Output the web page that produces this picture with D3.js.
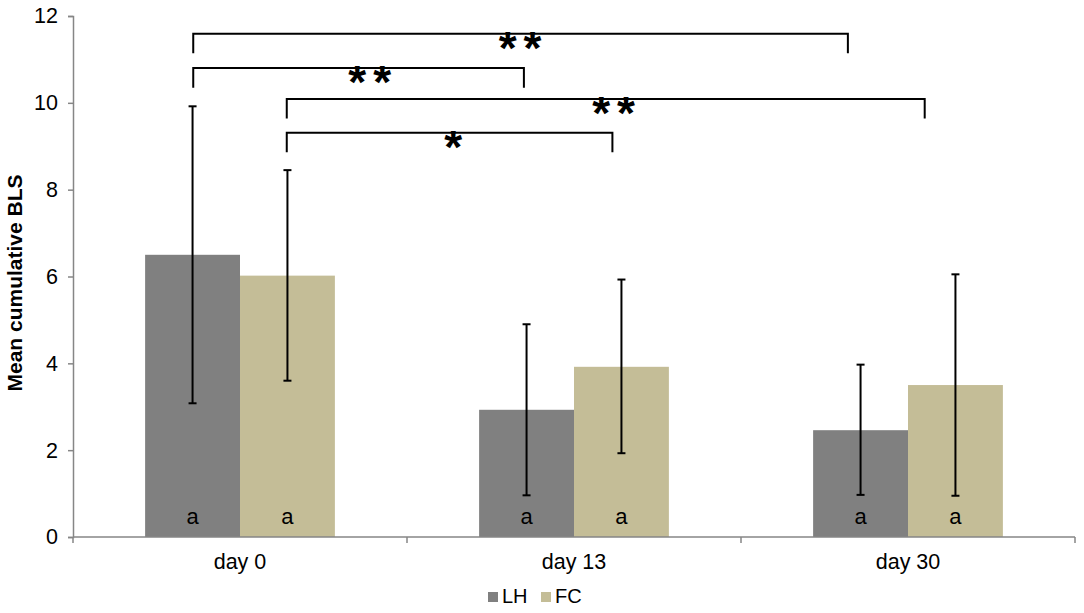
<!DOCTYPE html>
<html>
<head>
<meta charset="utf-8">
<script src="https://cdn.jsdelivr.net/npm/d3@7"></script>
<style>
  body { margin: 0; background: #fff; }
  svg { font-family: Arial, "Liberation Sans", sans-serif; }
</style>
</head>
<body>
<script>
// data
var days = ["day 0", "day 13", "day 30"];
var groups = ["LH", "FC"];
var colors = ["#808080", "#c4bd97"];
var meanLH = [6.5, 2.93, 2.46];
var meanFC = [6.02, 3.92, 3.5];
var upperLH = [9.92, 4.9, 3.97];
var lowerLH = [3.08, 0.96, 0.97];
var upperFC = [8.45, 5.93, 6.05];
var lowerFC = [3.6, 1.93, 0.95];
var letters = ["a", "a", "a"];
var yTicks = [0, 2, 4, 6, 8, 10, 12];

// significance brackets: x in category units (0..3), level in y units
var brackets = [
  { from: 0.36, to: 2.32, level: 11.59, stars: "**" },
  { from: 0.36, to: 1.35, level: 10.8, stars: "**" },
  { from: 0.64, to: 2.55, level: 10.09, stars: "**" },
  { from: 0.64, to: 1.615, level: 9.31, stars: "*" }
];
var starPos = [1.34, 0.89, 1.62, 1.14];

var svgWidth = 1084;
var svgHeight = 613;
var margin = { top: 16, right: 9, bottom: 76, left: 73 };
var chartWidth = svgWidth - margin.left - margin.right;
var chartHeight = svgHeight - margin.top - margin.bottom;

var svg = d3.select("body").append("svg")
  .attr("width", svgWidth)
  .attr("height", svgHeight);

var chartGroup = svg.append("g")
  .attr("transform", `translate(${margin.left}, ${margin.top})`);

var xBand = d3.scaleBand()
  .domain(days)
  .range([0, chartWidth])
  .paddingInner(0)
  .paddingOuter(0);

var xInner = d3.scaleBand()
  .domain(groups)
  .range([0, xBand.bandwidth()])
  .paddingOuter(0.76)
  .paddingInner(0);

var xCat = d3.scaleLinear().domain([0, days.length]).range([0, chartWidth]);

var yScale = d3.scaleLinear()
  .domain([0, 12])
  .range([chartHeight, 0]);

// rows for bars
var rows = [];
days.forEach(function(d, i) {
  rows.push({ day: d, g: "LH", v: meanLH[i], up: upperLH[i], lo: lowerLH[i], c: colors[0], l: letters[i] });
  rows.push({ day: d, g: "FC", v: meanFC[i], up: upperFC[i], lo: lowerFC[i], c: colors[1], l: letters[i] });
});

function cx(d) { return xBand(d.day) + xInner(d.g) + xInner.bandwidth() / 2; }

// bars
chartGroup.selectAll(".bar")
  .data(rows)
  .enter()
  .append("rect")
  .attr("class", "bar")
  .attr("x", d => xBand(d.day) + xInner(d.g))
  .attr("y", d => yScale(d.v))
  .attr("width", xInner.bandwidth())
  .attr("height", d => chartHeight - yScale(d.v))
  .attr("fill", d => d.c);

// y axis
var leftAxis = d3.axisLeft(yScale).tickValues(yTicks).tickSize(5).tickPadding(10);
var yg = chartGroup.append("g").call(leftAxis);
yg.select(".domain").attr("stroke", "#868686").attr("stroke-width", 1.5);
yg.selectAll(".tick line").attr("stroke", "#868686").attr("stroke-width", 1.5);
yg.selectAll(".tick text").attr("font-size", 21.5).attr("fill", "#000")
  .attr("font-family", "Arial, 'Liberation Sans', sans-serif");

// x axis with ticks between categories
var xg = chartGroup.append("g")
  .attr("transform", `translate(0, ${chartHeight})`);
xg.append("line")
  .attr("x1", 0).attr("x2", chartWidth)
  .attr("stroke", "#868686").attr("stroke-width", 1.5);
xg.selectAll(".xtick")
  .data(d3.range(days.length + 1))
  .enter()
  .append("line")
  .attr("x1", d => xCat(d)).attr("x2", d => xCat(d))
  .attr("y1", 0).attr("y2", 6)
  .attr("stroke", "#868686").attr("stroke-width", 1.5);
xg.selectAll(".xlabel")
  .data(days)
  .enter()
  .append("text")
  .attr("x", d => xBand(d) + xBand.bandwidth() / 2)
  .attr("y", 32)
  .attr("text-anchor", "middle")
  .attr("font-size", 21.5)
  .text(d => d);

// error bars
var err = chartGroup.append("g").attr("stroke", "#000").attr("stroke-width", 2);
err.selectAll(".ev")
  .data(rows).enter().append("line")
  .attr("x1", cx).attr("x2", cx)
  .attr("y1", d => yScale(d.up)).attr("y2", d => yScale(d.lo));
err.selectAll(".ecapU")
  .data(rows).enter().append("line")
  .attr("x1", d => cx(d) - 4).attr("x2", d => cx(d) + 4)
  .attr("y1", d => yScale(d.up)).attr("y2", d => yScale(d.up));
err.selectAll(".ecapL")
  .data(rows).enter().append("line")
  .attr("x1", d => cx(d) - 4).attr("x2", d => cx(d) + 4)
  .attr("y1", d => yScale(d.lo)).attr("y2", d => yScale(d.lo));

// letters in bars
chartGroup.selectAll(".letter")
  .data(rows).enter().append("text")
  .attr("x", cx)
  .attr("y", chartHeight - 13)
  .attr("text-anchor", "middle")
  .attr("font-size", 22)
  .attr("fill", "#000")
  .text(d => d.l);

// significance brackets
var legLen = 0.45;
chartGroup.selectAll(".bracket")
  .data(brackets).enter().append("path")
  .attr("fill", "none")
  .attr("stroke", "#000")
  .attr("stroke-width", 2)
  .attr("d", d => `M${xCat(d.from)},${yScale(d.level - legLen)}V${yScale(d.level)}H${xCat(d.to)}V${yScale(d.level - legLen)}`);

chartGroup.selectAll(".stars")
  .data(brackets).enter().append("text")
  .attr("x", (d, i) => xCat(starPos[i]) + 3)
  .attr("y", d => yScale(d.level) + 30)
  .attr("text-anchor", "middle")
  .attr("font-size", 46)
  .attr("font-weight", "bold")
  .attr("letter-spacing", 7)
  .text(d => d.stars);

// y axis title
svg.append("text")
  .attr("transform", `translate(22, 283) rotate(-90)`)
  .attr("text-anchor", "middle")
  .attr("font-size", 21)
  .attr("font-weight", "bold")
  .text("Mean cumulative BLS");

// legend
var legend = svg.append("g").attr("transform", "translate(488, 592)");
var items = legend.selectAll(".item")
  .data(groups).enter().append("g")
  .attr("transform", (d, i) => `translate(${i * 53}, 0)`);
items.append("rect")
  .attr("width", 10).attr("height", 10)
  .attr("fill", (d, i) => colors[i]);
items.append("text")
  .attr("x", 14).attr("y", 11)
  .attr("font-size", 20)
  .text(d => d);
</script>
</body>
</html>
